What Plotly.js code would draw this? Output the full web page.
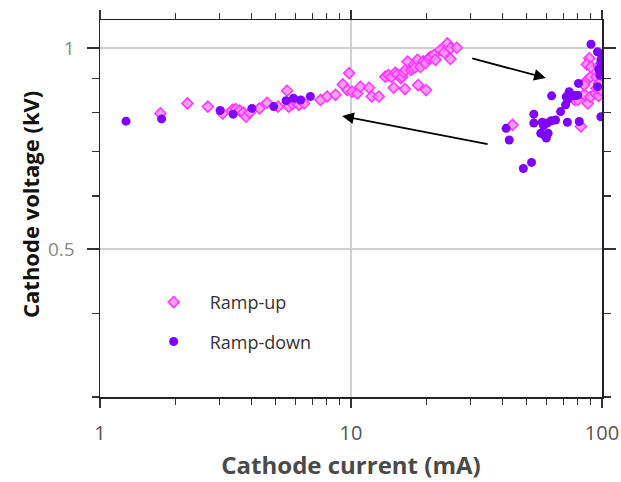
<!DOCTYPE html>
<html>
<head>
<meta charset="utf-8">
<script src="https://cdn.plot.ly/plotly-3.0.1.min.js"></script>
<style>html,body{margin:0;padding:0;background:#fff;}#chart{width:621px;height:482px;}</style>
</head>
<body>
<div id="chart"></div>
<script>
// Ramp-up (pink diamonds): cathode current (mA) and cathode voltage (kV)
const rampUpCurrent = [
  1.74, 2.23, 2.69, 3.08, 3.37, 3.47, 3.6, 3.72, 3.82, 3.95, 4.32, 4.63, 5.12, 5.56, 5.65,
  5.85, 6.0, 6.2, 6.5, 7.56, 8.03, 8.67, 9.27, 9.83, 9.67, 10.1, 10.6, 10.9, 11.8, 12.1, 12.9,
  13.7, 14.1, 14.5, 14.8, 15.0, 15.3, 15.8, 16.0, 16.2, 16.4, 16.5, 16.8, 17.3, 17.6, 17.8,
  18.0, 18.4, 18.5, 18.9, 19.4, 19.8, 19.9, 20.4, 20.8, 21.4, 21.7, 22.7, 23.5, 24.2, 24.9,
  26.4, 24.9,
  44.0, 82.4, 77.8, 80.0, 87.8, 85.0, 90.0, 94.0, 97.0, 86.0, 90.0, 95.0, 97.0, 85.0,
  89.0, 87.0, 90.4, 97.0, 95.0, 99.0
];
const rampUpVoltage = [
  0.798, 0.826, 0.817, 0.798, 0.808, 0.81, 0.806, 0.80, 0.789, 0.80, 0.812, 0.828, 0.817, 0.863, 0.817,
  0.825, 0.83, 0.822, 0.826, 0.836, 0.846, 0.851, 0.882, 0.917, 0.865, 0.860, 0.855, 0.875, 0.872, 0.846, 0.846,
  0.906, 0.911, 0.905, 0.872, 0.918, 0.913, 0.901, 0.906, 0.92, 0.868, 0.927, 0.954, 0.927, 0.932, 0.943,
  0.935, 0.960, 0.880, 0.937, 0.955, 0.949, 0.865, 0.965, 0.97, 0.976, 0.960, 0.993, 0.985, 1.016, 0.999,
  1.001, 0.963,
  0.767, 0.763, 0.836, 0.836, 0.826, 0.852, 0.845, 0.855, 0.848, 0.89, 0.905, 0.905, 0.885, 0.88,
  0.965, 0.945, 0.937, 0.94, 0.87, 0.865
];
// Ramp-down (purple circles)
const rampDownCurrent = [
  1.27, 1.76, 3.01, 3.39, 4.03, 4.92, 5.51, 5.9, 6.3, 6.89,
  41.5, 42.7, 48.6, 52.4, 53.5, 53.5, 57.8, 60.5, 62.8, 58.5, 57.0, 59.0, 60.0, 61.0,
  63.0, 65.3, 68.4, 71.6, 72.8, 72.0, 74.0, 76.0, 73.0, 78.0, 80.0, 80.6, 81.2,
  90.4, 95.9, 99.0, 99.0, 99.0, 99.0, 97.0, 98.0, 96.0
];
const rampDownVoltage = [
  0.777, 0.783, 0.806, 0.796, 0.812, 0.817, 0.834, 0.841, 0.836, 0.846,
  0.758, 0.728, 0.660, 0.674, 0.796, 0.772, 0.774, 0.772, 0.778, 0.765, 0.745, 0.740, 0.733, 0.745,
  0.848, 0.780, 0.803, 0.822, 0.774, 0.845, 0.860, 0.850, 0.838, 0.848, 0.850, 0.885, 0.776,
  1.013, 0.987, 0.980, 0.960, 0.950, 0.789, 0.930, 0.910, 0.875
];
// Tick values
const xMajorTicks = [1, 10, 100];
const xMinorTicks = [2, 3, 4, 5, 6, 7, 8, 9, 20, 30, 40, 50, 60, 70, 80, 90];
const yMajorTicks = [0.5, 1];
const yTickLabels = ['0.5', '1'];
const yMinorTicks = [0.3, 0.4, 0.6, 0.7, 0.8, 0.9];
// Arrows: [tailCurrent, tailVoltage, headCurrent, headVoltage]
const arrowUp = [30.0, 0.966, 59.7, 0.902];
const arrowDown = [35.5, 0.717, 9.22, 0.791];

const L = Math.log10;
function arrow(a) {
  return {x: L(a[2]), y: L(a[3]), ax: L(a[0]), ay: L(a[1]), xref: 'x', yref: 'y', axref: 'x', ayref: 'y',
    showarrow: true, arrowhead: 2, arrowsize: 1.3, arrowwidth: 1.8, arrowcolor: '#000', text: ''};
}

const traces = [
  {x: rampUpCurrent, y: rampUpVoltage, name: 'Ramp-up', type: 'scatter', mode: 'markers', legendgroup: 'a',
   marker: {symbol: 'diamond', size: 8.5, color: 'rgba(255,140,255,0.85)', line: {color: '#ff33ff', width: 1.5}}},
  {x: rampDownCurrent, y: rampDownVoltage, name: 'Ramp-down', type: 'scatter', mode: 'markers', legendgroup: 'b',
   marker: {symbol: 'circle', size: 9, color: '#7f00ff', line: {width: 0}}}
];

const layout = {
  width: 621, height: 482,
  margin: {l: 100, r: 19, t: 20, b: 85},
  paper_bgcolor: '#fff', plot_bgcolor: '#fff',
  font: {family: 'Open Sans, Noto Sans, sans-serif', color: '#555'},
  xaxis: {
    type: 'log', range: [0, 2], tickmode: 'array', tickvals: xMajorTicks, ticktext: ['1', '10', '100'],
    ticks: 'outside', ticklen: 9, tickwidth: 1.3, tickcolor: '#333', ticklabelstandoff: 8,
    showline: true, linecolor: '#222', linewidth: 1.5, mirror: 'allticks',
    showgrid: true, gridcolor: '#d0d0d0', gridwidth: 1.2,
    tickfont: {size: 20, color: '#555'},
    minor: {tickmode: 'array', tickvals: xMinorTicks, ticks: 'outside', ticklen: 6, tickwidth: 1.2, tickcolor: '#333', showgrid: false},
    title: {text: 'Cathode current (mA)', standoff: 12, font: {size: 24, color: '#4a4a4a', weight: 'bold'}},
    zeroline: false
  },
  yaxis: {
    type: 'log', range: [L(0.3), 0.042], tickmode: 'array', tickvals: yMajorTicks, ticktext: yTickLabels,
    ticks: 'outside', ticklen: 12, tickwidth: 1.3, tickcolor: '#333', ticklabelstandoff: 8,
    showline: true, linecolor: '#222', linewidth: 1.5, mirror: 'allticks',
    showgrid: true, gridcolor: '#d0d0d0', gridwidth: 1.2,
    tickfont: {size: 19, color: '#888'},
    minor: {tickmode: 'array', tickvals: yMinorTicks, ticks: 'outside', ticklen: 7, tickwidth: 1.2, tickcolor: '#333', showgrid: false},
    zeroline: false
  },
  showlegend: true,
  legend: {x: 0.075, y: 0.30, xanchor: 'left', yanchor: 'top', bgcolor: 'rgba(0,0,0,0)', tracegroupgap: 13,
    itemwidth: 62, font: {size: 18, color: '#333'}},
  annotations: [
    arrow(arrowUp), arrow(arrowDown),
    {text: 'Cathode voltage (kV)', xref: 'paper', yref: 'paper', x: -0.139, y: 0.51, textangle: -90,
     showarrow: false, font: {size: 22, color: '#111', weight: 'bold'}, xanchor: 'center', yanchor: 'middle'}
  ]
};

Plotly.newPlot('chart', traces, layout, {displayModeBar: false, staticPlot: true});
</script>
</body>
</html>
